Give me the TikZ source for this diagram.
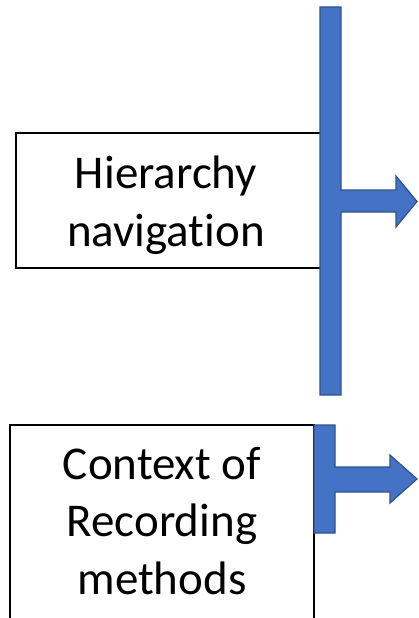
\documentclass[tikz,border=0pt]{standalone}
\usepackage{fontspec}
\setmainfont{Carlito}[Ligatures={NoCommon}]
\definecolor{barblue}{HTML}{4472C4}
\definecolor{bardark}{HTML}{2F528F}
\tikzset{
  box/.style={draw=black, line width=1.3pt, fill=white},
  tarrow/.style={fill=barblue, draw=bardark, line width=1.2pt, line join=miter},
  lbl/.style={align=center, inner sep=0pt, font=\fontsize{47}{57.5}\selectfont}
}
\begin{document}
\begin{tikzpicture}[x=1pt,y=-1pt]
\useasboundingbox (0,0) rectangle (418,618);
% top box
\draw[box] (16,133) rectangle (322,268);
\node[lbl] (t1) at (166,205) {Hierarchy\\navigation};
% top T arrow
\draw[tarrow] (320,7) -- (341,7) -- (341,190) -- (396,190) -- (396,176) -- (417,201.5)
  -- (396,227) -- (396,212) -- (341,212) -- (341,395) -- (320,395) -- cycle;
% bottom box
\draw[box] (10,425) rectangle (314,640);
\node[lbl] (t2) at (162,521) {Context of\\Recording\\methods};
% bottom T arrow
\draw[tarrow] (314,425) -- (335,425) -- (335,467) -- (390,467) -- (390,455) -- (417,479)
  -- (390,503) -- (390,492) -- (335,492) -- (335,533) -- (314,533) -- cycle;
\end{tikzpicture}
\end{document}
